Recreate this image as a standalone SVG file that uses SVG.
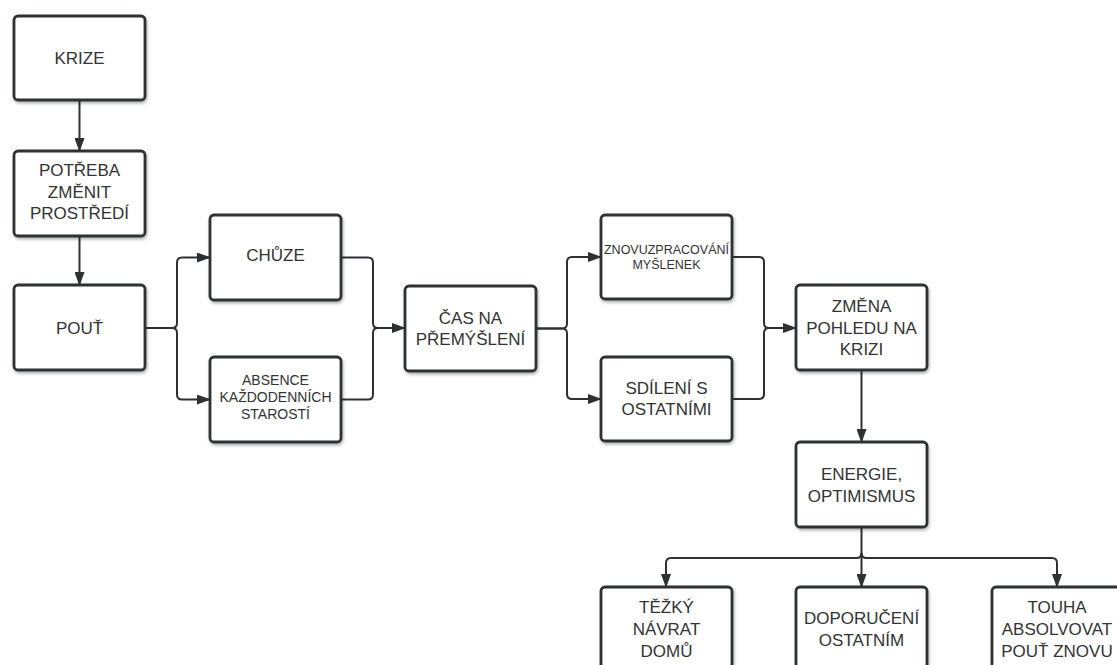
<svg xmlns="http://www.w3.org/2000/svg" width="1117" height="665" viewBox="0 0 1117 665">
<defs>
<filter id="sh" x="-10%" y="-10%" width="130%" height="130%">
<feDropShadow dx="1" dy="2" stdDeviation="1.8" flood-color="#000" flood-opacity="0.3"/>
</filter>
<marker id="ar" viewBox="0 0 14 10" refX="13" refY="5" markerWidth="14" markerHeight="10" markerUnits="userSpaceOnUse" orient="auto">
<path d="M0,0 L14,5 L0,10 Z" fill="#2e3033"/>
</marker>
<style>
.box{fill:#ffffff;stroke:#2e3033;stroke-width:2.8;filter:url(#sh);}
.t{font-family:"Liberation Sans",Arial,sans-serif;font-size:17px;fill:#333333;text-anchor:middle;}
.s{font-size:14px;}
.xs{font-size:12.5px;}
.c{fill:none;stroke:#2e3033;stroke-width:2;}
</style>
</defs>
<g id="connectors">
<path class="c" d="M79.5,100 V151" marker-end="url(#ar)"/>
<path class="c" d="M79.5,236 V285" marker-end="url(#ar)"/>
<path class="c" d="M145,328 H172 Q177,328 177,323 V262.5 Q177,257.5 182,257.5 H210" marker-end="url(#ar)"/>
<path class="c" d="M145,328 H172 Q177,328 177,333 V394.5 Q177,399.5 182,399.5 H210" marker-end="url(#ar)"/>
<path class="c" d="M341,257.5 H368 Q373,257.5 373,262.5 V323 Q373,328 378,328 H405" marker-end="url(#ar)"/>
<path class="c" d="M341,399.5 H368 Q373,399.5 373,394.5 V333 Q373,328 378,328"/>
<path class="c" d="M536,328.5 H562 Q567,328.5 567,323.5 V262 Q567,257 572,257 H601" marker-end="url(#ar)"/>
<path class="c" d="M536,328.5 H562 Q567,328.5 567,333.5 V394 Q567,399 572,399 H601" marker-end="url(#ar)"/>
<path class="c" d="M732,257 H759 Q764,257 764,262 V323 Q764,328 769,328 H796" marker-end="url(#ar)"/>
<path class="c" d="M732,399 H759 Q764,399 764,394 V333 Q764,328 769,328"/>
<path class="c" d="M861.5,370 V442" marker-end="url(#ar)"/>
<path class="c" d="M861.5,527 V587" marker-end="url(#ar)"/>
<path class="c" d="M861.5,553 Q861.5,558 856.5,558 H671 Q666,558 666,563 V587" marker-end="url(#ar)"/>
<path class="c" d="M861.5,553 Q861.5,558 866.5,558 H1052 Q1057,558 1057,563 V587" marker-end="url(#ar)"/>
</g>
<g id="krize">
<rect class="box" x="14" y="16" width="131" height="84" rx="4"/>
<text class="t" x="79.5" y="64">KRIZE</text>
</g>
<g id="potreba">
<rect class="box" x="14" y="151" width="131" height="85" rx="4"/>
<text class="t" x="79.5" y="176">POTŘEBA</text>
<text class="t" x="79.5" y="197.5">ZMĚNIT</text>
<text class="t" x="79.5" y="219">PROSTŘEDÍ</text>
</g>
<g id="pout">
<rect class="box" x="14" y="285" width="131" height="85" rx="4"/>
<text class="t" x="79.5" y="334">POUŤ</text>
</g>
<g id="chuze">
<rect class="box" x="210" y="215" width="131" height="85" rx="4"/>
<text class="t" x="275.5" y="261">CHŮZE</text>
</g>
<g id="absence">
<rect class="box" x="210" y="357" width="131" height="85" rx="4"/>
<text class="t s" x="275.5" y="384.5">ABSENCE</text>
<text class="t s" x="275.5" y="402">KAŽDODENNÍCH</text>
<text class="t s" x="275.5" y="419">STAROSTÍ</text>
</g>
<g id="cas">
<rect class="box" x="405" y="286" width="131" height="85" rx="4"/>
<text class="t" x="470.5" y="323.5">ČAS NA</text>
<text class="t" x="470.5" y="345">PŘEMÝŠLENÍ</text>
</g>
<g id="znovu">
<rect class="box" x="601" y="215" width="131" height="84" rx="4"/>
<text class="t xs" x="666.5" y="253.5">ZNOVUZPRACOVÁNÍ</text>
<text class="t xs" x="666.5" y="268.5">MYŠLENEK</text>
</g>
<g id="sdileni">
<rect class="box" x="601" y="357" width="131" height="84" rx="4"/>
<text class="t" x="666.5" y="393.5">SDÍLENÍ S</text>
<text class="t" x="666.5" y="415">OSTATNÍMI</text>
</g>
<g id="zmena">
<rect class="box" x="796" y="285" width="131" height="85" rx="4"/>
<text class="t" x="861.5" y="312">ZMĚNA</text>
<text class="t" x="861.5" y="333.5">POHLEDU NA</text>
<text class="t" x="861.5" y="355">KRIZI</text>
</g>
<g id="energie">
<rect class="box" x="796" y="442" width="131" height="85" rx="4"/>
<text class="t" x="861.5" y="480">ENERGIE,</text>
<text class="t" x="861.5" y="501.5">OPTIMISMUS</text>
</g>
<g id="tezky">
<rect class="box" x="601" y="587" width="131" height="85" rx="4"/>
<text class="t" x="666.5" y="613">TĚŽKÝ</text>
<text class="t" x="666.5" y="635">NÁVRAT</text>
<text class="t" x="666.5" y="657">DOMŮ</text>
</g>
<g id="doporuceni">
<rect class="box" x="796" y="587" width="131" height="85" rx="4"/>
<text class="t" x="861.5" y="624">DOPORUČENÍ</text>
<text class="t" x="861.5" y="645.5">OSTATNÍM</text>
</g>
<g id="touha">
<rect class="box" x="992" y="587" width="131" height="85" rx="4"/>
<text class="t" x="1057" y="613">TOUHA</text>
<text class="t" x="1057" y="635">ABSOLVOVAT</text>
<text class="t" x="1057" y="657">POUŤ ZNOVU</text>
</g>
</svg>
